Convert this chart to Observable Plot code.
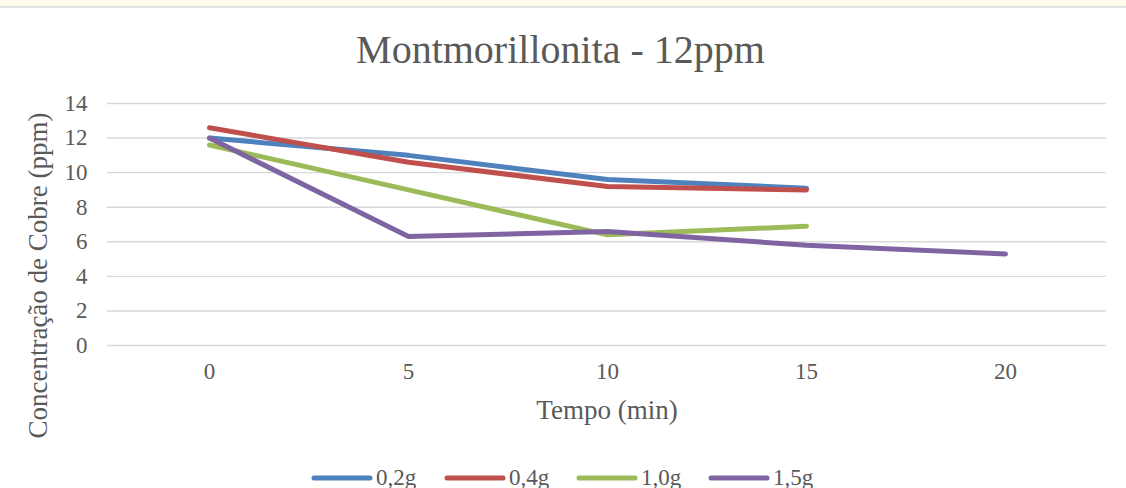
<!DOCTYPE html>
<html>
<head>
<meta charset="utf-8">
<script src="https://cdn.jsdelivr.net/npm/d3@7"></script>
<script src="https://cdn.jsdelivr.net/npm/@observablehq/plot@0.6"></script>
<style>
  html, body { margin: 0; padding: 0; background: #ffffff; }
  #wrap { position: relative; width: 1126px; height: 488px; overflow: hidden; background: #ffffff;
          font-family: "Liberation Serif", "Times New Roman", serif; color: #595959; }
  #topbar { position: absolute; left: 0; top: 0; width: 1126px; height: 6px; background: #fffaec;
            border-bottom: 2px solid #e2e2e2; }
  #title { height: 88px; box-sizing: border-box; padding-top: 30px; text-align: center; font-size: 40px;
           line-height: 1; padding-right: 5px; }
  #legend { position: relative; height: 70px; }
  .item { position: absolute; top: 48px; height: 24px; display: flex; align-items: center; font-size: 23px; line-height: 24px; }
  .item svg { margin-right: 3px; }
</style>
</head>
<body>
<div id="wrap">
  <div id="topbar"></div>
  <div id="title"></div>
  <div id="chart"></div>
  <div id="legend"></div>
</div>
<script>
const titulo = "Montmorillonita - 12ppm";
const rotuloX = "Tempo (min)";
const rotuloY = "Concentração de Cobre (ppm)";
const tempos = ["0", "5", "10", "15", "20"];
const yTicks = [0, 2, 4, 6, 8, 10, 12, 14];
const series = ["0,2g", "0,4g", "1,0g", "1,5g"];
const cores = ["#4F81BD", "#C0504D", "#9BBB59", "#8064A2"];
const s02 = [12.0, 11.0, 9.6, 9.1];
const s04 = [12.6, 10.6, 9.2, 9.0];
const s10 = [11.6, 9.0, 6.4, 6.9];
const s15 = [12.0, 6.3, 6.6, 5.8, 5.3];

const valores = [s02, s04, s10, s15];
const rows = [];
series.forEach((s, i) => valores[i].forEach((v, j) => rows.push({serie: s, tempo: tempos[j], valor: v})));

document.getElementById("title").textContent = titulo;

const fontFam = '"Liberation Serif", "Times New Roman", serif';
const plot = Plot.plot({
  width: 1126,
  height: 330,
  marginLeft: 107,
  marginRight: 20,
  marginTop: 15,
  marginBottom: 73,
  style: {fontFamily: fontFam, fontSize: "23px", color: "#595959", background: "transparent", overflow: "visible"},
  x: {type: "point", domain: tempos, padding: 0.5, tickSize: 0, tickPadding: 17, label: null},
  y: {domain: [0, 14], ticks: yTicks, tickSize: 0, tickPadding: 20, label: null},
  color: {domain: series, range: cores},
  marks: [
    Plot.ruleY(yTicks, {stroke: "#d9d9d9", strokeWidth: 1.4}),
    Plot.line(rows, {x: "tempo", y: "valor", z: "serie", stroke: "serie", strokeWidth: 5,
                     strokeLinecap: "round", strokeLinejoin: "round"}),
    Plot.text([rotuloY], {text: d => d, frameAnchor: "left", textAnchor: "middle", lineAnchor: "middle",
                          rotate: -90, dx: -69, dy: 51, fontSize: 27, fill: "#595959"}),
    Plot.text([rotuloX], {text: d => d, frameAnchor: "bottom", textAnchor: "middle", lineAnchor: "middle",
                          dy: 65, fontSize: 27, fill: "#595959"})
  ]
});
document.getElementById("chart").appendChild(plot);

const legend = document.getElementById("legend");
const lefts = [311, 444, 576, 708];
series.forEach((s, i) => {
  const it = document.createElement("div");
  it.className = "item";
  it.style.left = lefts[i] + "px";
  it.innerHTML = `<svg width="62" height="8"><line x1="3" y1="4" x2="59" y2="4" stroke="${cores[i]}" stroke-width="5" stroke-linecap="round"/></svg><span>${s}</span>`;
  legend.appendChild(it);
});
</script>
</body>
</html>
